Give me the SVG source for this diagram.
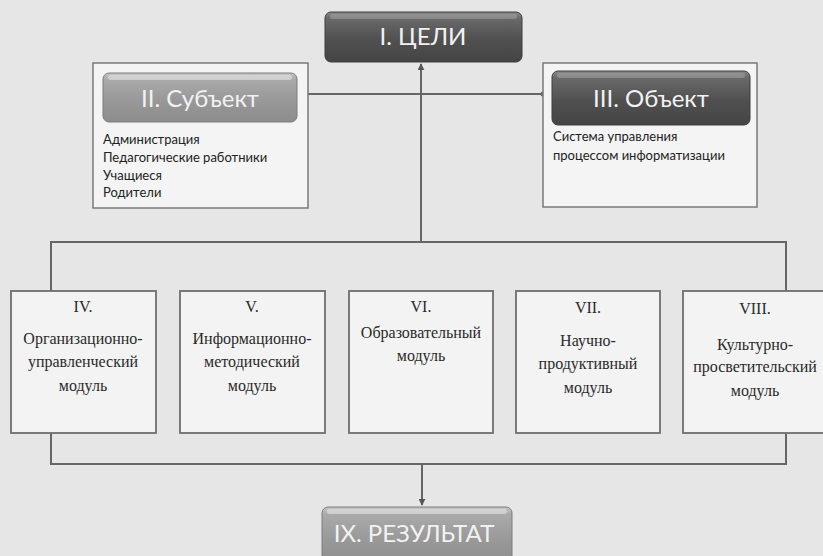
<svg xmlns="http://www.w3.org/2000/svg" width="823" height="556" viewBox="0 0 823 556">
<defs>
<linearGradient id="gDark" x1="0" y1="0" x2="0" y2="1">
<stop offset="0" stop-color="#8a8a8a"/>
<stop offset="0.12" stop-color="#6a6a6a"/>
<stop offset="0.55" stop-color="#505050"/>
<stop offset="1" stop-color="#444444"/>
</linearGradient>
<linearGradient id="gLight" x1="0" y1="0" x2="0" y2="1">
<stop offset="0" stop-color="#c8c8c8"/>
<stop offset="0.12" stop-color="#aaaaaa"/>
<stop offset="0.55" stop-color="#999999"/>
<stop offset="1" stop-color="#8c8c8c"/>
</linearGradient>
<marker id="arr" viewBox="0 0 10 10" refX="9" refY="5" markerWidth="7" markerHeight="7" markerUnits="userSpaceOnUse" orient="auto">
<path d="M0,0 L10,5 L0,10 z" fill="#555"/>
</marker>
</defs>
<style>
.bg{fill:#e6e6e6}
.frame{fill:#f4f4f4;stroke:#7a7a7a;stroke-width:1.5}
.mod{fill:#f3f3f3;stroke:#6e6e6e;stroke-width:1.8}
.btn-d{fill:url(#gDark);stroke:#3e3e3e;stroke-width:1}
.btn-l{fill:url(#gLight);stroke:#7c7c7c;stroke-width:1}
.btxt{font-family:Lato,"Noto Sans",sans-serif;font-size:24px;fill:#f2f2f2;text-anchor:middle}
.list{font-family:Lato,"Noto Sans",sans-serif;font-size:13px;fill:#222}
.mt{font-family:"Liberation Serif","Times New Roman",serif;font-size:16px;fill:#2a2a2a;text-anchor:middle}
.conn{fill:none;stroke:#666;stroke-width:2}
</style>
<rect class="bg" x="0" y="0" width="823" height="556"/>

<g id="connectors">
<path class="conn" d="M421,242 L421,64" marker-end="url(#arr)"/>
<path class="conn" d="M543,94 L302,94" marker-end="url(#arr)"/>
<circle cx="543" cy="94" r="2.5" fill="#666"/>
<path class="conn" d="M51,291 L51,242 L786,242 L786,291"/>
<path class="conn" d="M51,433 L51,464 L786,464 L786,433"/>
<path class="conn" d="M422,464 L422,505" marker-end="url(#arr)"/>
</g>

<g id="n1-celi">
<rect class="btn-d" x="325" y="12" width="197" height="50" rx="6"/>
<rect x="330" y="14" width="187" height="5" rx="2.5" fill="#a0a0a0" opacity="0.6"/>
<text class="btxt" x="423" y="45">I. ЦЕЛИ</text>
</g>

<g id="n2-subject">
<rect class="frame" x="93" y="63" width="215" height="145"/>
<rect class="btn-l" x="103" y="73" width="194" height="49" rx="6"/>
<rect x="108" y="75" width="184" height="5" rx="2.5" fill="#dddddd" opacity="0.7"/>
<text class="btxt" x="200" y="107">II. Субъект</text>
<text class="list" x="103" y="144">Администрация</text>
<text class="list" x="103" y="162">Педагогические работники</text>
<text class="list" x="103" y="180">Учащиеся</text>
<text class="list" x="103" y="197">Родители</text>
</g>

<g id="n3-object">
<rect class="frame" x="543" y="63" width="214" height="144"/>
<rect class="btn-d" x="552" y="71" width="198" height="54" rx="6"/>
<rect x="557" y="73" width="188" height="5" rx="2.5" fill="#a0a0a0" opacity="0.6"/>
<text class="btxt" x="651" y="107">III. Объект</text>
<text class="list" x="553" y="141">Система управления</text>
<text class="list" x="553" y="160">процессом информатизации</text>
</g>

<g id="n4">
<rect class="mod" x="11" y="291" width="145" height="142"/>
<text class="mt" x="83" y="312">IV.</text>
<text class="mt" x="83" y="344">Организационно-</text>
<text class="mt" x="83" y="367">управленческий</text>
<text class="mt" x="83" y="391">модуль</text>
</g>

<g id="n5">
<rect class="mod" x="180" y="291" width="145" height="142"/>
<text class="mt" x="252" y="312">V.</text>
<text class="mt" x="252" y="344">Информационно-</text>
<text class="mt" x="252" y="367">методический</text>
<text class="mt" x="252" y="391">модуль</text>
</g>

<g id="n6">
<rect class="mod" x="349" y="291" width="144" height="142"/>
<text class="mt" x="421" y="312">VI.</text>
<text class="mt" x="421" y="338">Образовательный</text>
<text class="mt" x="421" y="361">модуль</text>
</g>

<g id="n7">
<rect class="mod" x="516" y="291" width="144" height="142"/>
<text class="mt" x="588" y="313">VII.</text>
<text class="mt" x="588" y="346">Научно-</text>
<text class="mt" x="588" y="369">продуктивный</text>
<text class="mt" x="588" y="393">модуль</text>
</g>

<g id="n8">
<rect class="mod" x="683" y="291" width="145" height="142"/>
<text class="mt" x="755" y="314">VIII.</text>
<text class="mt" x="755" y="350">Культурно-</text>
<text class="mt" x="755" y="372">просветительский</text>
<text class="mt" x="755" y="396">модуль</text>
</g>

<g id="n9-result">
<rect class="btn-l" x="322" y="507" width="190" height="60" rx="6"/>
<rect x="327" y="509" width="180" height="5" rx="2.5" fill="#dddddd" opacity="0.7"/>
<text class="btxt" x="414" y="542">IX. РЕЗУЛЬТАТ</text>
</g>
</svg>
